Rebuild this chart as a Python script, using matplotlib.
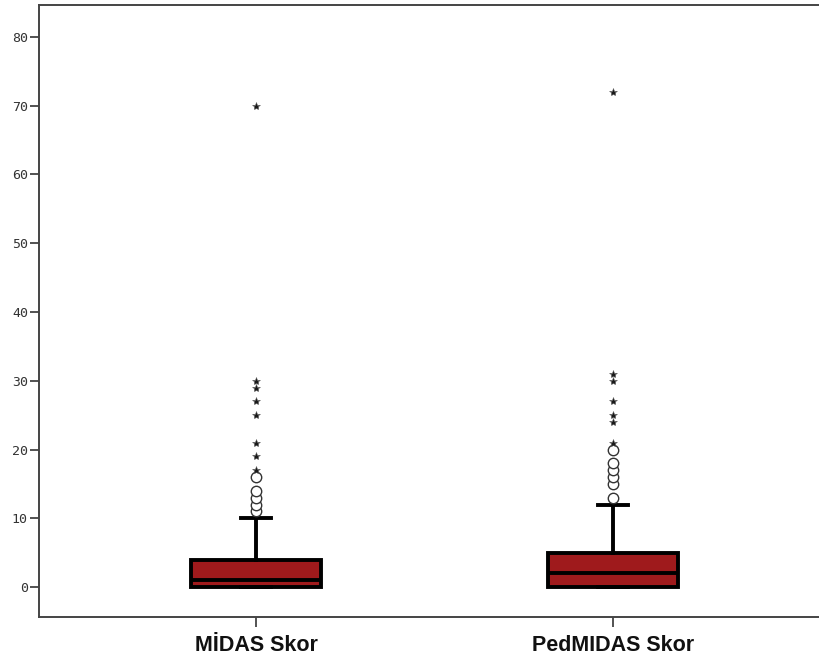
import matplotlib
matplotlib.use("Agg")
import matplotlib.pyplot as plt

categories = ["MİDAS Skor", "PedMIDAS Skor"]
q1 = [0, 0]
medians = [1, 2]
q3 = [4, 5]
whisker_low = [0, 0]
whisker_high = [10, 12]
circle_outliers = [
    [11, 12, 13, 14, 16],
    [13, 15, 16, 17, 18, 20],
]
star_outliers = [
    [17, 19, 21, 25, 27, 29, 30, 70],
    [21, 24, 25, 27, 30, 31, 72],
]
yticks = [0, 10, 20, 30, 40, 50, 60, 70, 80]

fill_color = "#9f1a1c"
spine_color = "#444444"

fig = plt.figure(figsize=(8.19, 6.61), dpi=100)
ax = fig.add_axes([39 / 819, 1 - 617 / 661, (830 - 39) / 819, (617 - 5) / 661])

positions = list(range(1, len(categories) + 1))
stats = []
for i, name in enumerate(categories):
    stats.append(dict(label=name, q1=q1[i], med=medians[i], q3=q3[i],
                      whislo=whisker_low[i], whishi=whisker_high[i], fliers=[]))

ax.bxp(stats, positions=positions, widths=0.364, patch_artist=True,
       showfliers=False,
       boxprops=dict(facecolor=fill_color, edgecolor="black", linewidth=2.8),
       medianprops=dict(color="black", linewidth=2.8, solid_capstyle="butt"),
       whiskerprops=dict(color="black", linewidth=2.8),
       capprops=dict(color="black", linewidth=2.8),
       capwidths=0.085)

for i, pos in enumerate(positions):
    ax.plot([pos] * len(circle_outliers[i]), circle_outliers[i], linestyle="none",
            marker="o", markersize=7.5, markerfacecolor="white",
            markeredgecolor="#333333", markeredgewidth=1.0, zorder=3)
    ax.plot([pos] * len(star_outliers[i]), star_outliers[i], linestyle="none",
            marker="*", markersize=6, markerfacecolor="#1a1a1a",
            markeredgecolor="#555555", markeredgewidth=0.4, zorder=4)

ax.set_xlim(0.392, 2.608)
ax.set_ylim(-4.36, 84.65)
ax.set_yticks(yticks)
ax.set_yticklabels([str(t) for t in yticks], fontfamily="DejaVu Sans Mono",
                   fontsize=9.5, color="#333333")
ax.set_xticks(positions)
ax.set_xticklabels(categories, fontfamily="Liberation Sans", fontweight="bold",
                   fontsize=15.5, color="#111111")

ax.tick_params(axis="y", direction="out", length=6.5, width=1.3, color=spine_color, pad=1.5)
ax.tick_params(axis="x", direction="out", length=7, width=1.3, color=spine_color, pad=6)

for side in ["left", "bottom", "top", "right"]:
    ax.spines[side].set_color(spine_color)
    ax.spines[side].set_linewidth(1.4)

fig.savefig("out.png", dpi=100)
